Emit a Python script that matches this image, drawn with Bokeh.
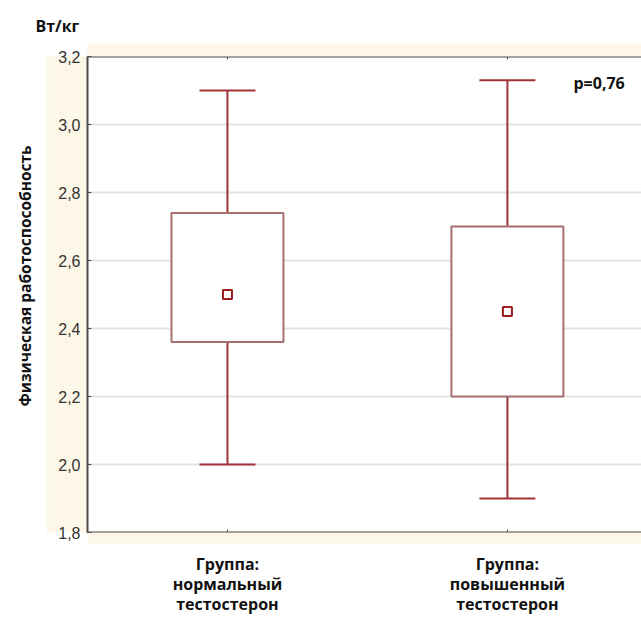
import math
from bokeh.plotting import figure
from bokeh.models import (Range1d, FixedTicker, LinearAxis, Label, Title, ColumnDataSource)
from bokeh.embed import file_html
from bokeh.resources import INLINE

# ---- data ----
groups = ["Группа:\nнормальный\nтестостерон", "Группа:\nповышенный\nтестостерон"]
whisker_low = [2.0, 1.90]
box_low = [2.36, 2.20]
mean_vals = [2.50, 2.45]
box_high = [2.74, 2.70]
whisker_high = [3.10, 3.13]
y_ticks = [1.8, 2.0, 2.2, 2.4, 2.6, 2.8, 3.0, 3.2]
y_tick_labels = ["1,8", "2,0", "2,2", "2,4", "2,6", "2,8", "3,0", "3,2"]
y_unit = "Вт/кг"
y_title = "Физическая работоспособность"
p_text = "p=0,76"

# ---- styling constants ----
DARK_RED = "#a03236"
BOX_LINE = "#a86f70"
BEIGE = "#fdf7e8"
AXIS_COL = "#4d4d4d"
BOX_W = 0.40
CAP_HALF = 0.10
FONT = "Open Sans"

x_pos = [i + 0.5 for i in range(len(groups))]

src = ColumnDataSource(dict(
    x=x_pos, wl=whisker_low, bl=box_low, m=mean_vals, bh=box_high, wh=whisker_high,
    cl=[x - CAP_HALF for x in x_pos], cr=[x + CAP_HALF for x in x_pos],
))

p = figure(width=641, height=617, output_backend="svg", toolbar_location=None,
           x_range=Range1d(0, 1.979), y_range=Range1d(1.8, 3.2),
           min_border_left=87, min_border_right=0, min_border_top=56, min_border_bottom=84,
           x_axis_location=None, y_axis_location=None)
p.outline_line_color = None
p.background_fill_color = "white"
p.border_fill_color = "white"


def spacer(ticks, size):
    """Empty axis used only as a beige band of the given thickness."""
    s = LinearAxis(ticker=FixedTicker(ticks=ticks))
    s.major_label_overrides = {t: "" for t in ticks}
    s.major_label_standoff = 0
    s.axis_line_color = None
    s.major_tick_in = 0
    s.major_tick_out = size
    s.major_tick_line_alpha = 0
    s.minor_tick_line_color = None
    s.background_fill_color = BEIGE
    return s


# left axis (beige band)
yax = LinearAxis(ticker=FixedTicker(ticks=y_ticks))
yax.major_label_overrides = {t: l for t, l in zip(y_ticks, y_tick_labels)}
yax.major_label_text_font = "Liberation Sans"
yax.major_label_text_font_size = "16px"
yax.major_label_text_color = "#333333"
yax.major_label_standoff = 7
yax.axis_line_color = AXIS_COL
yax.axis_line_width = 2
yax.major_tick_in = 4
yax.major_tick_out = 0
yax.major_tick_line_color = AXIS_COL
yax.minor_tick_line_color = None
yax.background_fill_color = BEIGE
p.add_layout(yax, "left")
p.add_layout(spacer(y_ticks, 9), "left")

p.add_layout(Title(text=y_title, align="left", offset=126, vertical_align="top",
                   text_font=FONT, text_font_style="bold",
                   text_font_size="15.5px", text_color="#111111", standoff=18), "left")

# top and bottom frame axes + beige bands
for loc in ["above", "below"]:
    xa = LinearAxis(ticker=FixedTicker(ticks=x_pos))
    xa.major_label_overrides = {x: "" for x in x_pos}
    xa.major_label_standoff = 0
    xa.axis_line_color = AXIS_COL
    xa.axis_line_width = 2
    xa.major_tick_in = 3
    xa.major_tick_out = 0
    xa.major_tick_line_color = AXIS_COL
    xa.minor_tick_line_color = None
    p.add_layout(xa, loc)
    p.add_layout(spacer(x_pos, 12 if loc == "above" else 11), loc)

# category label axis
xl = LinearAxis(ticker=FixedTicker(ticks=x_pos))
xl.major_label_overrides = {x: g for x, g in zip(x_pos, groups)}
xl.major_label_text_font = FONT
xl.major_label_text_font_style = "bold"
xl.major_label_text_font_size = "16px"
xl.major_label_text_color = "#111111"
xl.major_label_text_line_height = 0.92
xl.major_label_standoff = 3
xl.axis_line_color = None
xl.major_tick_line_color = None
xl.minor_tick_line_color = None
p.add_layout(xl, "below")

p.title.text = y_unit
p.title.align = "left"
p.title.offset = -52
p.title.text_font = FONT
p.title.text_font_style = "bold"
p.title.text_font_size = "16px"
p.title.text_color = "#111111"
p.title.standoff = 15

p.xgrid.visible = False
p.ygrid.ticker = FixedTicker(ticks=y_ticks[1:-1])
p.ygrid.grid_line_color = "#e4e4e4"
p.ygrid.grid_line_width = 2

# whiskers
p.segment(x0="x", y0="bh", x1="x", y1="wh", source=src, line_color=DARK_RED, line_width=2)
p.segment(x0="x", y0="wl", x1="x", y1="bl", source=src, line_color=DARK_RED, line_width=2)
p.segment(x0="cl", y0="wh", x1="cr", y1="wh", source=src, line_color=DARK_RED, line_width=2)
p.segment(x0="cl", y0="wl", x1="cr", y1="wl", source=src, line_color=DARK_RED, line_width=2)
# boxes
p.vbar(x="x", width=BOX_W, bottom="bl", top="bh", source=src,
       fill_color="white", line_color=BOX_LINE, line_width=2)
# means
p.scatter(x="x", y="m", source=src, marker="square", size=9,
          fill_color="white", line_color="#9b1b1f", line_width=2)

p.add_layout(Label(x=1.736, y=3.121, text=p_text, text_align="left", text_baseline="middle",
                   text_font=FONT, text_font_style="bold", text_font_size="16px", text_color="#111111"))

open("out.html", "w").write(file_html(p, INLINE))
